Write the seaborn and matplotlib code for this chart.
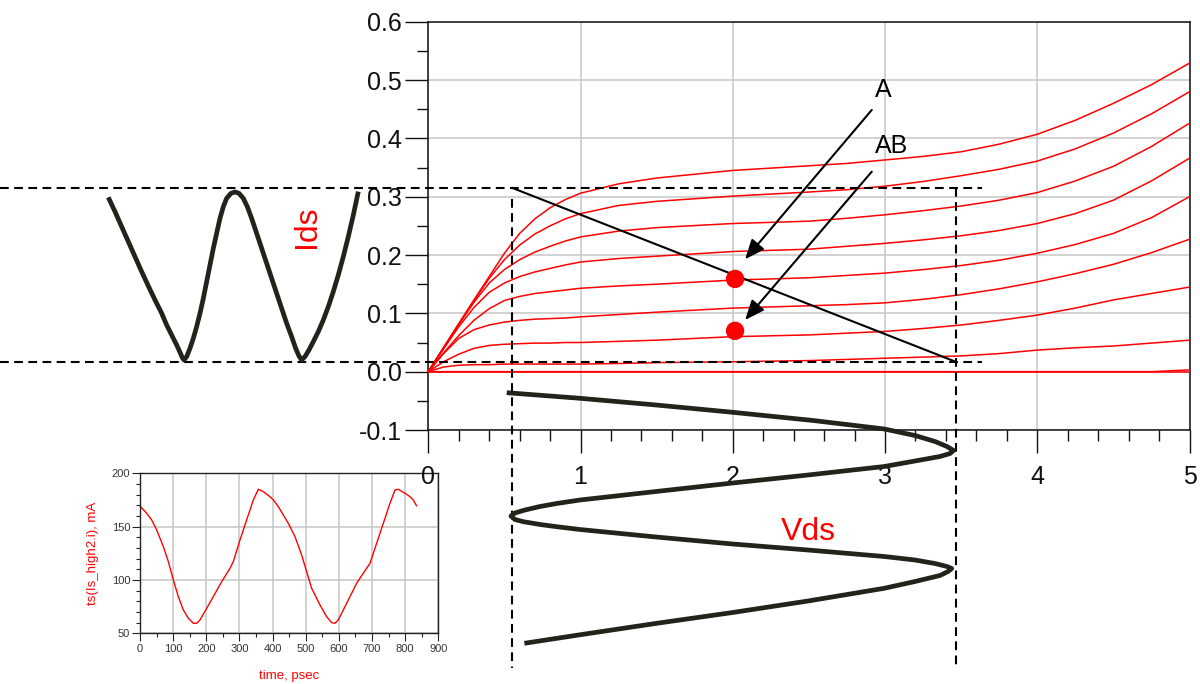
import matplotlib
matplotlib.use("Agg")
import matplotlib.pyplot as plt
from matplotlib.ticker import MultipleLocator, FormatStrFormatter
import pandas as pd
import seaborn as sns

# ---------------------------------------------------------------- data
# Drain characteristics: Ids (A) versus Vds (V), one list per gate bias
vds_grid = [0, 0.1, 0.2, 0.3, 0.4, 0.5, 0.6, 0.7, 0.8, 0.9, 1.0, 1.25, 1.5,
            2.0, 2.5, 2.75, 3.0, 3.25, 3.5, 3.75, 4.0, 4.25, 4.5, 4.75, 5.0]
ids_vg1 = [0, 0.041, 0.082, 0.123, 0.163, 0.203, 0.237, 0.262, 0.281, 0.295,
           0.306, 0.322, 0.332, 0.345, 0.353, 0.357, 0.363, 0.369, 0.377,
           0.390, 0.407, 0.431, 0.460, 0.492, 0.529]
ids_vg2 = [0, 0.041, 0.082, 0.122, 0.160, 0.192, 0.217, 0.236, 0.250, 0.262,
           0.271, 0.285, 0.292, 0.301, 0.308, 0.312, 0.318, 0.326, 0.336,
           0.347, 0.361, 0.382, 0.409, 0.442, 0.480]
ids_vg3 = [0, 0.041, 0.081, 0.119, 0.152, 0.175, 0.192, 0.205, 0.215, 0.224,
           0.231, 0.241, 0.247, 0.254, 0.258, 0.263, 0.269, 0.276, 0.284,
           0.294, 0.307, 0.327, 0.352, 0.386, 0.426]
ids_vg4 = [0, 0.039, 0.077, 0.110, 0.136, 0.152, 0.163, 0.171, 0.177, 0.183,
           0.188, 0.194, 0.198, 0.206, 0.210, 0.215, 0.220, 0.226, 0.233,
           0.242, 0.254, 0.271, 0.294, 0.327, 0.366]
ids_vg5 = [0, 0.032, 0.062, 0.088, 0.108, 0.122, 0.129, 0.134, 0.137, 0.140,
           0.143, 0.147, 0.150, 0.157, 0.161, 0.165, 0.169, 0.175, 0.182,
           0.191, 0.203, 0.218, 0.237, 0.264, 0.300]
ids_vg6 = [0, 0.031, 0.057, 0.072, 0.080, 0.085, 0.088, 0.090, 0.091, 0.092,
           0.094, 0.098, 0.102, 0.109, 0.113, 0.115, 0.118, 0.124, 0.132,
           0.142, 0.154, 0.168, 0.184, 0.204, 0.227]
ids_vg7 = [0, 0.017, 0.030, 0.040, 0.045, 0.047, 0.048, 0.049, 0.049, 0.050,
           0.050, 0.052, 0.054, 0.060, 0.063, 0.066, 0.069, 0.074, 0.080,
           0.088, 0.097, 0.109, 0.123, 0.134, 0.145]
ids_vg8 = [0, 0.008, 0.011, 0.012, 0.012, 0.013, 0.013, 0.013, 0.013, 0.013,
           0.013, 0.014, 0.0155, 0.017, 0.019, 0.021, 0.023, 0.025, 0.027,
           0.031, 0.037, 0.041, 0.044, 0.049, 0.054]
ids_vg9 = [0] * 24 + [0.003]
ids_vg10 = [0] * 25

# Operating window and load line end points
vds_min, vds_max = 0.548, 3.463
ids_min, ids_max = 0.0171, 0.3154

# Bias points (class A and class AB)
bias_labels = ["A", "AB"]
bias_vds = [2.015, 2.015]
bias_ids = [0.159, 0.070]

# Drain current waveform (time in ps, Ids in A)
w_time = [0, 22.2, 44.3, 66.4, 88.4, 110.5, 132.6, 154.7, 176.8, 193.3,
          209.9, 226.4, 237.5, 245.2, 250.7, 259.6, 270.6, 281.6, 292.7,
          303.7, 314.8, 325.8, 336.8, 347.9, 358.9, 370.0, 381.0, 392.0,
          406.4, 419.6, 432.9, 447.2, 460.5, 474.8, 491.4, 508.0, 524.5,
          541.1, 557.6, 574.2, 590.8, 607.3, 620.6, 631.6, 640.4, 651.5,
          664.7, 679.1, 695.6, 712.2, 728.8, 745.3, 761.9, 778.4, 795.0,
          811.6, 828.1]
w_ids = [0.2989, 0.2744, 0.2486, 0.2229, 0.1972, 0.1715, 0.1469, 0.1229,
         0.1001, 0.0800, 0.0629, 0.0458, 0.0332, 0.0240, 0.0200, 0.0258,
         0.0400, 0.0572, 0.0772, 0.1001, 0.1258, 0.1543, 0.1829, 0.2115,
         0.2372, 0.2629, 0.2829, 0.2972, 0.3058, 0.3081, 0.3058, 0.2972,
         0.2829, 0.2629, 0.2372, 0.2115, 0.1858, 0.1601, 0.1343, 0.1086,
         0.0829, 0.0601, 0.0400, 0.0269, 0.0200, 0.0258, 0.0372, 0.0515,
         0.0686, 0.0886, 0.1115, 0.1372, 0.1658, 0.1972, 0.2315, 0.2686,
         0.3087]

# Drain voltage waveform (time in ps, Vds in V)
v_time = [0, 18.5, 40.7, 64.9, 92.1, 120.2, 141.8, 161.6, 178.2, 191.4,
          201.4, 211.3, 226.2, 244.4, 272.6, 299.1, 327.2, 355.4, 367.0,
          376.9, 388.5, 398.4, 408.4, 420.0, 427.2, 436.5, 443.8, 453.1,
          477.9, 501.1, 521.0, 542.5, 554.1, 565.7, 575.6, 582.2, 592.2,
          605.4, 625.3, 647.8, 689.9, 728.0, 764.1, 801.8, 830.0]
v_vds = [0.515, 0.996, 1.496, 1.999, 2.529, 2.995, 3.197, 3.328, 3.407,
         3.450, 3.427, 3.361, 3.197, 2.995, 2.494, 1.999, 1.496, 0.996,
         0.843, 0.734, 0.635, 0.569, 0.543, 0.569, 0.624, 0.734, 0.843,
         0.996, 1.496, 1.999, 2.494, 2.995, 3.197, 3.328, 3.407, 3.438,
         3.414, 3.361, 3.197, 2.995, 2.494, 1.999, 1.496, 0.996, 0.631]

# Simulated source current (time in psec, current in mA)
ts_time = [0, 20.1, 35.2, 50.3, 70.4, 85.5, 100.6, 115.6, 130.7, 145.8,
           160.9, 171.0, 181.0, 201.1, 221.2, 246.4, 271.5, 281.6, 301.7,
           321.8, 341.9, 357.0, 372.1, 392.2, 402.2, 417.3, 432.4, 447.5,
           467.6, 487.7, 502.8, 517.9, 543.0, 563.1, 578.2, 588.3, 598.3,
           613.4, 633.5, 653.6, 673.7, 693.9, 714.0, 734.1, 754.2, 769.3,
           779.3, 799.4, 814.5, 824.6, 834.6]
ts_ma = [169.4, 162.5, 156.3, 146.9, 131.3, 117.2, 100.0, 84.4, 71.9, 64.1,
         59.4, 59.4, 62.5, 73.4, 84.4, 98.4, 110.9, 117.2, 137.5, 156.3,
         175.0, 185.0, 182.8, 178.1, 175.0, 168.8, 160.9, 153.1, 140.6,
         123.4, 107.8, 92.2, 76.6, 65.6, 60.0, 59.4, 62.5, 71.9, 84.4, 96.9,
         106.3, 115.6, 134.4, 153.1, 171.9, 184.4, 185.0, 181.3, 178.1,
         175.0, 169.4]

# ---------------------------------------------------------------- style
sns.set_theme(style="white")
plt.rcParams["font.family"] = ["Liberation Sans", "DejaVu Sans"]
plt.rcParams["axes.unicode_minus"] = False

W, H = 1200, 684
fig = plt.figure(figsize=(W / 100, H / 100), dpi=100)
fig.patch.set_facecolor("white")

RED = "#ff0000"
INK = "#23231b"
GRID = "#c6c6c6"

def rect(x0, y0, x1, y1):
    """Axes rectangle from pixel corners (top-left origin)."""
    return [x0 / W, 1 - y1 / H, (x1 - x0) / W, (y1 - y0) / H]

main_px = (428.3, 21.7, 1189.5, 430.0)

# ---------------------------------------------------------------- inset: source current vs time
ax_in = fig.add_axes(rect(140, 473.3, 438.3, 633.3))
sns.lineplot(x=ts_time, y=ts_ma, ax=ax_in, color=RED, lw=1.0,
             sort=False, estimator=None)
ax_in.set_xlim(0, 900)
ax_in.set_ylim(50, 200)
ax_in.xaxis.set_major_locator(MultipleLocator(100))
ax_in.xaxis.set_minor_locator(MultipleLocator(50))
ax_in.yaxis.set_major_locator(MultipleLocator(50))
ax_in.yaxis.set_minor_locator(MultipleLocator(10))
ax_in.grid(True, which="major", color=GRID, lw=1.1)
ax_in.tick_params(which="both", direction="out", bottom=True, left=True,
                  colors="#222222", labelsize=8, width=0.8,
                  labelcolor="#333333")
ax_in.tick_params(which="major", length=6, pad=2)
ax_in.tick_params(which="minor", length=3)
ax_in.tick_params(axis="y", which="major", pad=1)
for s in ax_in.spines.values():
    s.set_color("#222222")
    s.set_linewidth(1.0)
ax_in.set_xlabel("time, psec", color=RED, fontsize=9.5, labelpad=11)
ax_in.set_ylabel("ts(Is_high2.i), mA", color=RED, fontsize=9.5, labelpad=9)

# ---------------------------------------------------------------- main: drain characteristics
ax = fig.add_axes(rect(*main_px))
ax.set_facecolor("none")
curves = [ids_vg1, ids_vg2, ids_vg3, ids_vg4, ids_vg5, ids_vg6, ids_vg7,
          ids_vg8, ids_vg9, ids_vg10]
iv = pd.DataFrame({
    "Vds": vds_grid * len(curves),
    "Ids": [v for c in curves for v in c],
    "bias": [i for i, c in enumerate(curves) for _ in c],
})
sns.lineplot(data=iv, x="Vds", y="Ids", units="bias", estimator=None,
             color=RED, lw=1.1, ax=ax, zorder=3)

ax.set_xlim(0, 5)
ax.set_ylim(-0.1, 0.6)
ax.xaxis.set_major_locator(MultipleLocator(1))
ax.xaxis.set_minor_locator(MultipleLocator(0.2))
ax.yaxis.set_major_locator(MultipleLocator(0.1))
ax.yaxis.set_minor_locator(MultipleLocator(0.05))
ax.yaxis.set_major_formatter(FormatStrFormatter("%.1f"))
ax.grid(True, which="major", color=GRID, lw=1.1, zorder=0)
ax.tick_params(which="both", direction="out", bottom=True, left=True,
               colors="#111111", width=1.0, labelsize=18)
ax.tick_params(which="major", length=16.5)
ax.tick_params(which="minor", length=8)
ax.tick_params(axis="x", which="major", pad=8.5)
ax.tick_params(axis="y", which="major", pad=2.5)
for s in ax.spines.values():
    s.set_color("#111111")
    s.set_linewidth(1.1)
ax.set_xlabel("")
ax.set_ylabel("")

# pixel -> data helpers for lines that leave the plotting area
x0p, y0p, x1p, y1p = main_px
def xd(px):
    return (px - x0p) / (x1p - x0p) * 5.0
def yd(py):
    return 0.6 - (py - y0p) / (y1p - y0p) * 0.7

dash = dict(color="black", lw=1.5, dashes=(4.2, 2.6), clip_on=False, zorder=4)
ax.plot([xd(0), xd(982)], [ids_max, ids_max], **dash)
ax.plot([xd(0), xd(982)], [ids_min, ids_min], **dash)
ax.plot([vds_min, vds_min], [yd(199.5), yd(668)], **dash)
ax.plot([vds_max, vds_max], [ids_max, yd(665)], **dash)

# load line
ax.plot([vds_min, vds_max], [ids_max, ids_min], color="black", lw=1.5,
        solid_capstyle="butt", clip_on=False, zorder=4)

# bias points
sns.scatterplot(x=bias_vds, y=bias_ids, ax=ax, color=RED, s=175,
                edgecolor="none", zorder=6, legend=False)

# labels with arrows pointing at the bias points
label_pos = [(2.99, 0.483), (3.045, 0.387)]
arrow_from = [(2.913, 0.4487), (2.913, 0.3429)]
arrow_to = [(2.081, 0.1927), (2.081, 0.0886)]
for lab, tp, a0, a1 in zip(bias_labels, label_pos, arrow_from, arrow_to):
    ax.text(tp[0], tp[1], lab, fontsize=18, color="black",
            ha="center", va="center", zorder=7)
    ax.annotate("", xy=a1, xytext=a0,
                arrowprops=dict(arrowstyle="-|>,head_length=0.6,head_width=0.25",
                                mutation_scale=20, lw=1.5, color="black",
                                shrinkA=0, shrinkB=0), zorder=7)

# ---------------------------------------------------------------- Ids(t) waveform to the left
ax_w = fig.add_axes(rect(108.3, main_px[1], 358.3, main_px[3]))
ax_w.set_axis_off()
sns.lineplot(x=w_time, y=w_ids, ax=ax_w, color=INK, lw=3.4, sort=False,
             estimator=None)
for ln in ax_w.lines:
    ln.set_clip_on(False)
    ln.set_solid_capstyle("butt")
    ln.set_solid_joinstyle("round")
ax_w.set_xlim(w_time[0], w_time[-1])
ax_w.set_ylim(-0.1, 0.6)

# ---------------------------------------------------------------- Vds(t) waveform below
ax_v = fig.add_axes(rect(main_px[0], 392.7, main_px[2], 643.3))
ax_v.set_axis_off()
sns.lineplot(x=v_vds, y=v_time, ax=ax_v, color=INK, lw=3.4, sort=False,
             estimator=None)
for ln in ax_v.lines:
    ln.set_clip_on(False)
    ln.set_solid_capstyle("butt")
    ln.set_solid_joinstyle("round")
ax_v.set_xlim(0, 5)
ax_v.set_ylim(v_time[-1], v_time[0])

# ---------------------------------------------------------------- axis names
fig.text(306.7 / W, 1 - 226.7 / H, "Ids", color=RED, fontsize=23,
         rotation=90, ha="center", va="center")
fig.text(808.3 / W, 1 - 531.7 / H, "Vds", color=RED, fontsize=23,
         ha="center", va="center")

fig.savefig("out.png", dpi=100, facecolor="white")
